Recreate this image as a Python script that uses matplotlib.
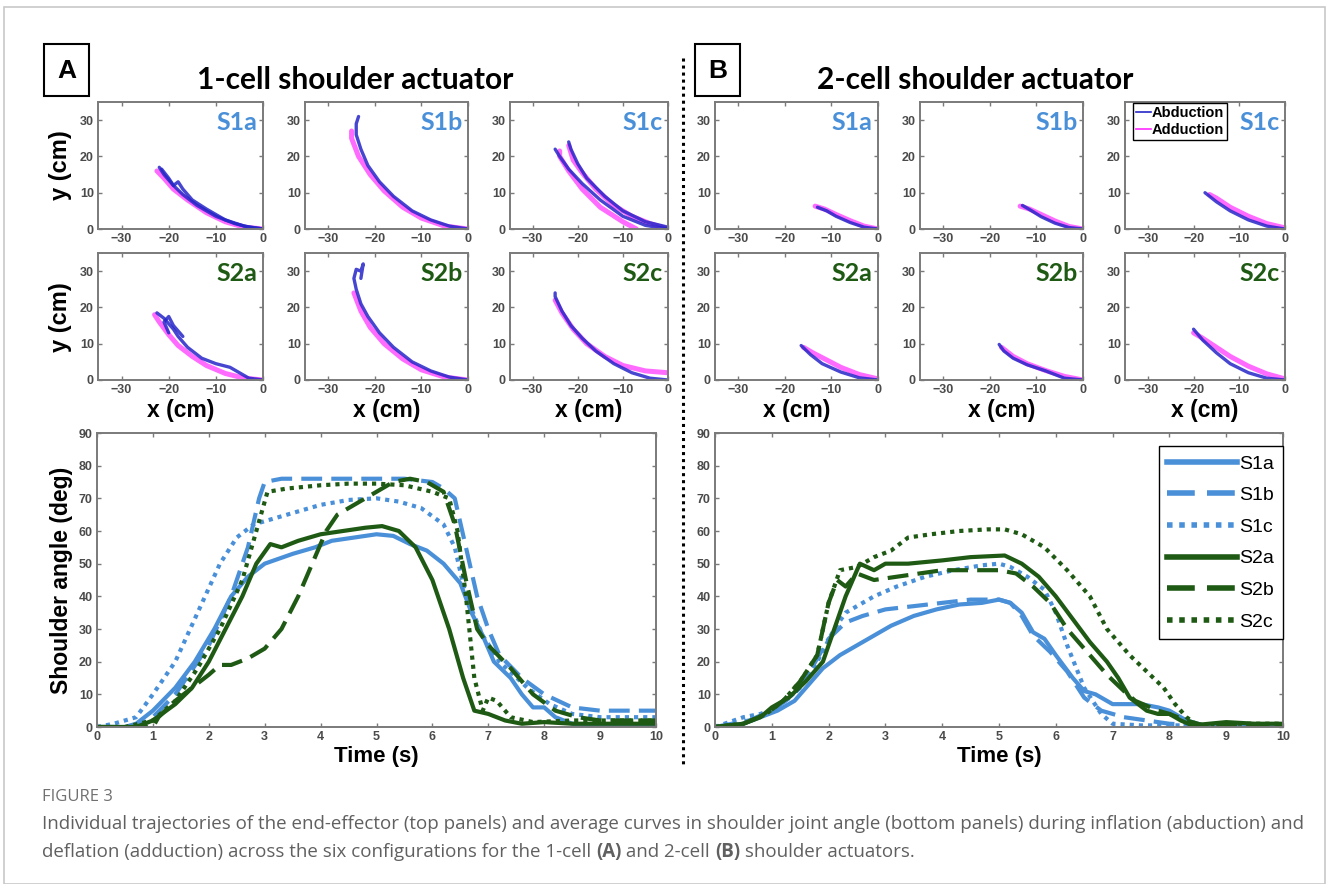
import numpy as np
import matplotlib
matplotlib.use('Agg')
import matplotlib.pyplot as plt
from matplotlib.lines import Line2D
from matplotlib.patches import Rectangle

W, H = 1328, 884

# ---- bottom panels: average shoulder angle (deg) vs time (s)
labels = ['S1a', 'S1b', 'S1c', 'S2a', 'S2b', 'S2c']

# 1-cell actuator (panel A)
a_s1a_t = [0, 0.5, 0.7, 1.0, 1.4, 1.75, 2.1, 2.4, 2.7, 3.0, 3.5, 3.9, 4.2, 4.6, 5.0, 5.3, 5.6, 5.9, 6.2, 6.5, 6.7, 6.9, 7.1, 7.4, 7.6, 7.8, 8.0, 8.2, 8.5, 9.0, 10]
a_s1a_y = [0, 0, 1, 5, 12, 20, 30, 40, 46, 50, 53, 55, 57, 58, 59, 58.5, 56, 54, 50, 44, 35, 28, 20, 15, 10, 6, 6, 3, 1, 0, 0]
a_s1b_t = [0, 0.7, 1.0, 1.4, 2.0, 2.4, 2.7, 2.9, 3.0, 3.3, 4.0, 5.5, 6.0, 6.2, 6.4, 6.6, 6.8, 7.0, 7.2, 7.6, 8.0, 8.5, 9.0, 10]
a_s1b_y = [0, 0, 3, 10, 25, 40, 55, 70, 75, 76, 76, 76, 75, 73, 70, 55, 40, 30, 22, 15, 10, 6, 5, 5]
a_s1c_t = [0, 0.3, 0.7, 1.0, 1.4, 1.8, 2.2, 2.5, 2.8, 3.2, 3.6, 4.0, 4.5, 5.0, 5.4, 5.8, 6.2, 6.4, 6.6, 6.9, 7.2, 7.7, 8.1, 8.5, 9.0, 10]
a_s1c_y = [0, 1, 3, 10, 20, 35, 50, 58, 62, 64, 66, 68, 69.5, 70, 69, 67, 62, 55, 40, 28, 20, 12, 7, 4, 3, 3]
a_s2a_t = [0, 0.7, 1.0, 1.4, 1.7, 2.0, 2.3, 2.6, 2.85, 3.1, 3.3, 3.6, 4.0, 4.4, 4.8, 5.1, 5.4, 5.7, 6.0, 6.3, 6.55, 6.75, 7.0, 7.3, 7.6, 8.0, 8.5, 9.0, 10]
a_s2a_y = [0, 0, 2, 7, 12, 20, 30, 40, 50, 56, 55, 57, 59, 60, 61, 61.5, 60, 55, 45, 30, 15, 5, 4, 2, 1, 1.5, 1, 1, 1]
a_s2b_t = [0, 1.0, 1.1, 1.4, 1.7, 2.0, 2.2, 2.4, 2.7, 3.0, 3.3, 3.6, 3.85, 4.1, 4.3, 4.7, 5.0, 5.3, 5.6, 5.9, 6.2, 6.4, 6.6, 6.8, 7.0, 7.4, 7.8, 8.2, 8.6, 9.0, 10]
a_s2b_y = [0, 0, 3, 8, 12, 16, 19, 19, 21, 24, 30, 40, 50, 60, 65, 69, 72, 75, 76, 75, 72, 62, 45, 30, 25, 18, 10, 5, 3, 2, 2]
a_s2c_t = [0, 0.5, 1.0, 1.4, 1.8, 2.2, 2.6, 2.85, 3.05, 3.4, 4.0, 4.5, 5.0, 5.5, 6.0, 6.3, 6.45, 6.6, 6.75, 6.9, 7.0, 7.15, 7.4, 7.8, 8.5, 9.0, 10]
a_s2c_y = [0, 0, 2, 8, 18, 30, 45, 60, 72, 73, 74, 74.5, 74.5, 74, 72, 70, 60, 40, 15, 5, 9, 8, 3, 1.5, 2, 2, 2]

# 2-cell actuator (panel B)
b_s1a_t = [0, 0.5, 0.8, 1.1, 1.4, 1.6, 1.9, 2.2, 2.5, 2.8, 3.1, 3.5, 3.9, 4.3, 4.7, 5.0, 5.2, 5.4, 5.6, 5.8, 6.0, 6.3, 6.5, 6.7, 7.0, 7.5, 7.8, 8.0, 8.3, 8.6, 9.0, 9.5, 10]
b_s1a_y = [0, 1, 3, 5, 8, 12, 18, 22, 25, 28, 31, 34, 36, 37.5, 38, 39, 38, 35, 29, 27, 22, 15, 11, 10, 7, 7, 6, 5, 2, 0.5, 0.5, 0, 0]
b_s1b_t = [0, 0.6, 1.0, 1.4, 1.7, 2.0, 2.3, 2.6, 3.0, 3.5, 4.0, 4.5, 5.0, 5.2, 5.4, 5.6, 5.9, 6.2, 6.5, 6.8, 7.2, 7.6, 8.0, 8.5, 10]
b_s1b_y = [0, 2, 5, 10, 18, 27, 32, 34, 36, 37, 38, 39, 39, 38, 34, 28, 23, 17, 9, 5, 3, 2, 1, 0.5, 0.5]
b_s1c_t = [0, 0.5, 0.8, 1.1, 1.5, 1.8, 2.1, 2.3, 2.8, 3.2, 3.7, 4.2, 4.7, 5.0, 5.2, 5.5, 5.8, 6.0, 6.2, 6.5, 6.8, 7.0, 7.5, 8.5, 10]
b_s1c_y = [0, 3, 4, 6, 12, 20, 30, 35, 40, 43, 46, 48, 49.5, 50, 49, 46, 42, 35, 25, 12, 4, 1, 0.5, 0.5, 0.5]
b_s2a_t = [0, 0.5, 0.8, 1.0, 1.3, 1.6, 1.9, 2.1, 2.3, 2.55, 2.8, 3.0, 3.4, 4.0, 4.5, 5.1, 5.4, 5.7, 6.0, 6.3, 6.6, 6.9, 7.1, 7.3, 7.6, 7.8, 8.0, 8.2, 8.4, 8.7, 9.0, 9.5, 10]
b_s2a_y = [0, 1, 3, 6, 9, 14, 20, 30, 40, 50, 48, 50, 50, 51, 52, 52.5, 50, 46, 40, 33, 26, 20, 15, 9, 5, 4, 4, 2, 0.5, 1, 1.5, 1, 1]
b_s2b_t = [0, 0.5, 0.9, 1.2, 1.5, 1.8, 2.0, 2.15, 2.3, 2.5, 2.8, 3.2, 3.6, 4.0, 5.0, 5.3, 5.6, 5.9, 6.2, 6.6, 6.9, 7.2, 7.4, 7.8, 8.0, 8.3, 8.6, 10]
b_s2b_y = [0, 1, 4, 8, 14, 22, 38, 45, 43, 47, 45, 46, 47, 48, 48, 47, 43, 38, 30, 22, 16, 11, 8, 5, 4, 2, 0.5, 0.5]
b_s2c_t = [0, 0.5, 0.9, 1.2, 1.5, 1.8, 2.0, 2.2, 2.5, 2.8, 3.1, 3.4, 3.8, 4.3, 4.8, 5.1, 5.4, 5.8, 6.2, 6.6, 6.9, 7.3, 7.6, 7.9, 8.1, 8.3, 8.5, 8.8, 9.0, 10]
b_s2c_y = [0, 1, 4, 8, 14, 22, 38, 48, 49, 52, 54, 58, 59, 60, 60.5, 60.5, 59, 55, 48, 40, 30, 22, 17, 12, 7, 3, 0.5, 0, 1, 1]

# ---- top panels: end-effector trajectories (x cm, y cm), abduction / adduction
# panel A, 1-cell
tA = {
    'S1a': ([([0, -3, -6, -10, -14, -17, -19, -21, -22], [0, 0.5, 1.5, 3.5, 6.5, 9.5, 12, 15, 17]),
             ([0, -4, -8, -12, -15, -17, -18, -19, -20, -21.5], [0, 0.8, 2.5, 5.5, 8, 11, 13, 12, 14, 16.5])],
            [([0, -4, -8, -12, -16, -19, -21, -22.5], [0, 0.5, 2, 4.5, 8, 11, 14, 16])]),
    'S1b': ([([0, -4, -8, -12, -16, -19, -21.5, -23, -24, -24, -23.5], [0, 0.8, 2.5, 5, 9, 13, 17.5, 22, 26, 29, 31])],
            [([0, -5, -10, -14, -18, -21, -23.5, -25, -25], [0, 0.8, 3, 6, 10.5, 15, 20, 25, 27])]),
    'S1c': ([([0, -5, -10, -15, -19, -22, -24, -25], [0, 1, 3.5, 8, 12.5, 16.5, 20, 22]),
             ([0, -5, -10, -14, -18, -20, -21.5, -22], [0.5, 2, 5, 9, 14, 18, 22, 24])],
            [([-7, -10, -15, -19, -22, -24, -24], [0, 2, 6, 11, 16, 20, 21.5]),
             ([0, -4, -8, -12, -16, -19, -21, -22], [0, 1.5, 3.5, 6.5, 11, 15.5, 19, 23])]),
    'S2a': ([([0, -3, -5, -7, -10, -13, -16, -18, -19, -21, -22.5], [0, 0.5, 2, 3.5, 4.5, 6, 9, 12, 14, 17, 18.5]),
             ([-17, -19, -20, -21, -20], [12, 15, 17.5, 16, 13])],
            [([0, -4, -8, -12, -15, -18, -20, -22, -23], [0, 0.5, 1.8, 4, 6.5, 9.5, 12.5, 16, 18])]),
    'S2b': ([([0, -4, -8, -12, -16, -19, -21.5, -23, -24, -24.5, -24, -23, -22.5, -23], [0, 0.8, 2.5, 5, 9, 13, 17.5, 21, 25, 28, 30.5, 30, 32, 28])],
            [([0, -5, -10, -14, -18, -21, -23, -24.5], [0, 0.8, 2.8, 5.8, 10, 14.5, 19, 24])]),
    'S2c': ([([0, -4, -8, -12, -16, -19, -21.5, -23.5, -25, -25], [0, 0.5, 2, 4.5, 8, 11.5, 15, 19, 23, 24])],
            [([0, -5, -10, -14, -18, -21, -23.5, -25], [2, 2.5, 4, 6.5, 10, 14, 18.5, 22])]),
}
# panel B, 2-cell
tB = {
    'S1a': ([([0, -3, -6, -9, -11, -13], [0, 0.5, 1.8, 3.5, 5, 6])],
            [([0, -3, -6, -9, -11.5, -13.5], [0, 0.8, 2.3, 4, 5.5, 6.3])]),
    'S1b': ([([0, -3, -6, -9, -11, -13], [0, 0.4, 1.6, 3.4, 5, 6.5])],
            [([0, -3, -6, -9, -11.5, -13.5], [0, 0.7, 2.2, 4, 5.5, 6.3])]),
    'S1c': ([([0, -4, -8, -12, -15, -17.5], [0, 0.8, 2.5, 5, 7.5, 10])],
            [([0, -4, -8, -12, -15, -16.5], [0.3, 1.5, 3.5, 6, 8.5, 9.5])]),
    'S2a': ([([0, -4, -8, -12, -14.5, -16.5], [0, 0.6, 2.2, 4.5, 7, 9.5])],
            [([0, -4, -8, -11, -14, -16], [0.3, 1.5, 3.5, 5.5, 7.5, 9])]),
    'S2b': ([([0, -4, -8, -12, -15, -17, -18], [0, 0.5, 2.5, 4.2, 6, 8, 9.8])],
            [([0, -4, -8, -12, -15, -17.5], [0, 1, 2.6, 4.5, 6.5, 9])]),
    'S2c': ([([0, -4, -8, -12, -15, -18, -20], [0, 0.5, 2, 4.5, 7.5, 11, 14])],
            [([0, -4, -8, -12, -15, -18, -20], [0.3, 1.7, 3.8, 6.5, 9, 11.5, 13])]),
}

blue = '#4a90d9'
green = '#1f5a14'
abd_col = '#2626c8'
add_col = '#ff2bff'
tick_col = '#4a4a4a'
cap_col = '#606060'

fig = plt.figure(figsize=(W / 100, H / 100), dpi=100)


def ax_px(x0, y0, x1, y1):
    return fig.add_axes([x0 / W, 1 - y1 / H, (x1 - x0) / W, (y1 - y0) / H])


def fig_text(x, y, s, **kw):
    return fig.text(x / W, 1 - y / H, s, **kw)


def style_axes(ax, size):
    for sp in ax.spines.values():
        sp.set_color('#7a7a7a')
        sp.set_linewidth(1.4)
    ax.tick_params(direction='in', top=True, right=True, length=3, width=1,
                   color='#7a7a7a', labelsize=size, labelcolor=tick_col, pad=3)
    for lab in ax.get_xticklabels() + ax.get_yticklabels():
        lab.set_fontweight('bold')
        lab.set_family('Liberation Sans')


# outer frame
fig.add_artist(Rectangle((4 / W, 0), (1325 - 4) / W, 1 - 7 / H, transform=fig.transFigure,
                         fill=False, edgecolor='#c8c8c8', linewidth=1.2))

# panel boxes + titles
for bx, lab, tx, title in [(44, 'A', 355, '1-cell shoulder actuator'),
                           (695, 'B', 975, '2-cell shoulder actuator')]:
    fig.add_artist(Rectangle((bx / W, 1 - 96 / H), 45 / W, 52 / H, transform=fig.transFigure,
                             fill=False, edgecolor='black', linewidth=1.5))
    fig_text(bx + 22.5, 71, lab, ha='center', va='center', fontsize=19,
             fontweight='bold', family='Liberation Sans')
    fig_text(tx, 80, title, ha='center', va='center', fontsize=21.5,
             fontweight='bold', family='Lato')

# dotted separator
fig.add_artist(Line2D([683 / W, 683 / W], [1 - 58 / H, 1 - 765 / H], transform=fig.transFigure,
                      color='black', linestyle=(0, (1, 1.3)), linewidth=2.2))

# small trajectory axes
cols_A = [(98, 263), (305, 468), (510, 668)]
cols_B = [(715, 878), (920, 1083), (1125, 1285)]
rows = [(102, 229), (253, 380)]
names = [['S1a', 'S1b', 'S1c'], ['S2a', 'S2b', 'S2c']]

for cols, traj in [(cols_A, tA), (cols_B, tB)]:
    for r, (y0, y1) in enumerate(rows):
        for c, (x0, x1) in enumerate(cols):
            name = names[r][c]
            ax = ax_px(x0, y0, x1, y1)
            abd, add = traj[name]
            for xs, ys in add:
                ax.plot(xs, ys, color=add_col, lw=3.6, alpha=0.7, solid_capstyle='round',
                        solid_joinstyle='round')
            for xs, ys in abd:
                ax.plot(xs, ys, color=abd_col, lw=2.4, alpha=0.85, solid_capstyle='round',
                        solid_joinstyle='round')
            ax.set_xlim(-35, 0)
            ax.set_ylim(0, 35)
            ax.set_xticks([-30, -20, -10, 0])
            ax.set_yticks([0, 10, 20, 30])
            style_axes(ax, 9)
            ax.text(0.965, 0.84, name, transform=ax.transAxes, ha='right', va='center',
                    fontsize=18, fontweight='bold', family='Lato',
                    color=blue if r == 0 else green)
            if traj is tB and name == 'S1c':
                leg_handles = [Line2D([], [], color=abd_col, lw=1.2),
                               Line2D([], [], color=add_col, lw=1.2)]
                ax.legend(leg_handles, ['Abduction', 'Adduction'], loc='upper left',
                          bbox_to_anchor=(0.05, 0.99), fancybox=False, framealpha=1,
                          edgecolor='black', handlelength=1.0, handletextpad=0.1,
                          borderpad=0.2, labelspacing=0.2, borderaxespad=0,
                          prop={'family': 'Liberation Sans', 'weight': 'bold', 'size': 10.5})

# axis labels of the small panels
for yc in (165, 317):
    fig_text(60, yc, 'y (cm)', ha='center', va='center', rotation=90, fontsize=17,
             fontweight='bold', family='Liberation Sans')
for x0, x1 in cols_A + cols_B:
    fig_text((x0 + x1) / 2, 411, 'x (cm)', ha='center', va='center', fontsize=16.5,
             fontweight='bold', family='Liberation Sans')

# bottom angle plots
styles = ['-', (0, (5, 2.2)), (0, (1, 1.2)), '-', (0, (5, 2.2)), (0, (1, 1.2))]
colors = [blue, blue, blue, green, green, green]
data_A = [(a_s1a_t, a_s1a_y), (a_s1b_t, a_s1b_y), (a_s1c_t, a_s1c_y),
          (a_s2a_t, a_s2a_y), (a_s2b_t, a_s2b_y), (a_s2c_t, a_s2c_y)]
data_B = [(b_s1a_t, b_s1a_y), (b_s1b_t, b_s1b_y), (b_s1c_t, b_s1c_y),
          (b_s2a_t, b_s2a_y), (b_s2b_t, b_s2b_y), (b_s2c_t, b_s2c_y)]

for (x0, x1), data, show_leg in [((97, 656), data_A, False), ((715, 1283), data_B, True)]:
    ax = ax_px(x0, 433, x1, 727)
    for (t, y), ls, col, lab in zip(data, styles, colors, labels):
        ax.plot(t, y, color=col, linestyle=ls, lw=3, label=lab)
    ax.set_xlim(0, 10)
    ax.set_ylim(0, 90)
    ax.set_xticks(range(0, 11))
    ax.set_yticks(range(0, 91, 10))
    style_axes(ax, 9)
    ax.set_xlabel('Time (s)', fontsize=16, fontweight='bold', family='Liberation Sans', labelpad=2)
    if show_leg:
        leg = ax.legend(loc='upper right', bbox_to_anchor=(1.0, 0.955), fancybox=False,
                        framealpha=1, edgecolor='black', handlelength=3.6, handletextpad=0.1,
                        labelspacing=0.72, borderpad=0.45, borderaxespad=0,
                        prop={'family': 'Liberation Sans', 'size': 14})
        for ln in leg.get_lines():
            ln.set_linewidth(4)
    else:
        ax.set_ylabel('Shoulder angle (deg)', fontsize=16.5, fontweight='bold',
                      family='Liberation Sans', labelpad=4)

# caption
fig_text(42, 797, 'FIGURE 3', ha='left', va='center', fontsize=12, color='#707070',
         family='Open Sans')
fig_text(42, 824, 'Individual trajectories of the end-effector (top panels) and average curves in shoulder '
         'joint angle (bottom panels) during inflation (abduction) and',
         ha='left', va='center', fontsize=13.5, color=cap_col, family='Open Sans')

# second caption line with bold panel letters, laid out piece by piece
pieces = [('deflation (adduction) across the six configurations for the 1-cell ', 'normal'),
          ('(A)', 'bold'), (' and 2-cell ', 'normal'), ('(B)', 'bold'), (' shoulder actuators.', 'normal')]
fig.canvas.draw()
renderer = fig.canvas.get_renderer()
xpos = 42
for s, wgt in pieces:
    t = fig_text(xpos, 852, s, ha='left', va='center', fontsize=13.5,
                 color=cap_col, family='Open Sans', fontweight=wgt)
    xpos += t.get_window_extent(renderer).width

fig.savefig('out.png', dpi=100)
